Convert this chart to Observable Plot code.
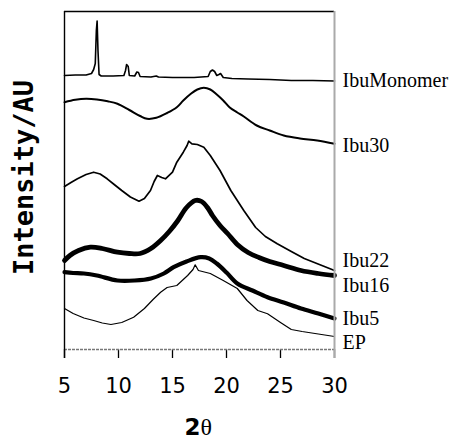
<!DOCTYPE html>
<html>
<head>
<meta charset="utf-8">
<script src="https://cdn.jsdelivr.net/npm/d3@7"></script>
<script src="https://cdn.jsdelivr.net/npm/@observablehq/plot@0.6"></script>
<style>
  html, body { margin: 0; padding: 0; background: #fff; }
</style>
</head>
<body>
<div id="chart"></div>
<script>
// 2θ (degrees) vs intensity (arbitrary units, offset stacked traces)
const ibuMonomer = [[5,274],[6,274.5],[7,274.5],[7.5,276],[7.7,280],[7.85,286],[7.95,319],[8.02,328.5],[8.1,299],[8.2,275],[8.4,273.5],[9.5,273.5],[10.5,274],[10.65,279],[10.75,285],[10.9,283],[11.0,274],[11.5,273.5],[11.7,277.5],[11.85,277],[12.0,273],[13,272.5],[13.5,273.5],[13.7,272.5],[15,272],[17,272],[18.3,273],[18.5,278],[18.7,279.5],[18.9,278],[19.1,274],[19.3,275],[19.45,276],[19.7,272],[20.5,271],[22,270.5],[24,270],[26,269],[28,269],[30,268.5]];
const ibu30 = [[5,247.3],[6,249.7],[7,250.7],[8,250],[9,248.2],[9.9,245.7],[11,239.5],[12,233.5],[12.65,230.7],[13.5,231.7],[14.5,236.5],[15.4,242.3],[16.0,249],[16.7,255.7],[17.3,260],[17.9,261.7],[18.5,260],[19.1,255],[19.7,249],[20.3,242],[21.0,237],[21.6,233],[22.8,224],[24,219],[25.3,214],[26.8,211],[28.4,209],[30,205.7]];
const ibu22 = [[5,163],[5.6,167],[6.2,170.7],[7.0,175],[7.7,177.3],[8.3,175.5],[8.95,170.7],[9.6,165],[10.3,159],[11.1,152.5],[11.9,148.3],[12.4,151],[12.96,159],[13.3,168],[13.6,174],[14.0,172],[14.35,170.7],[15.0,177.3],[15.4,187.3],[16.0,197.3],[16.35,204],[16.5,208.3],[16.8,205.7],[17.3,205],[17.9,202.3],[18.5,194],[19.4,179],[20.4,159],[21.6,139],[22.7,122],[23.6,113],[24.7,105.7],[26,98],[27.2,91],[28.6,85],[30,79]];
const ibu16 = [[5,89],[5.5,94],[6.3,99],[7.4,102.3],[8.5,101],[9.9,97.3],[11,96],[12,96],[13,101],[13.9,109],[14.7,118],[15.5,129],[16.3,142],[17.1,149],[17.7,148],[18.3,141],[18.7,134],[19.4,124],[20.1,116],[21,105],[22,97],[23,92],[24,88],[25.3,84],[26.9,79],[28.5,76],[30,74]];
const ibu5 = [[5,77.3],[5.8,76.5],[6.8,76],[8,74],[9.9,69],[11.5,69],[13,71],[14.2,76],[15.1,82.3],[16.3,88],[17.6,92.3],[18.4,91],[19.1,86],[20,77],[21,66],[22.4,59],[23.8,52.3],[25.3,47],[26.9,41],[28.5,36],[30,31]];
const ep = [[5,41],[5.8,36],[6.8,31.5],[7.7,29],[8.5,26.5],[9.3,25],[10.3,27],[11.4,32.3],[12.4,41],[13.2,50],[13.9,57.3],[14.5,62],[15.4,64],[16.4,74],[16.9,80],[17.1,84.7],[17.4,79],[18.5,76],[19.7,69],[21,61],[21.9,49],[22.9,39],[23.8,35.7],[25,27],[26,20],[27,18],[28.5,15.5],[30,13]];

const seriesNames = ["IbuMonomer", "Ibu30", "Ibu22", "Ibu16", "Ibu5", "EP"];
const labelLevels = [269, 204, 89, 64, 31, 7];
const xTicks = [5, 10, 15, 20, 25, 30];
const xDomain = [5, 30];
const yDomain = [0, 338];

const seriesData = [ibuMonomer, ibu30, ibu22, ibu16, ibu5, ep];
const widths = [1.6, 2, 1.7, 4.8, 4.2, 1.2];
const curves = ["linear", "catmull-rom", "linear", "catmull-rom", "catmull-rom", "linear"];

const lineMarks = seriesData.map((d, i) =>
  Plot.line(d, {x: p => p[0], y: p => p[1], stroke: "#000", strokeWidth: widths[i], curve: curves[i], strokeLinejoin: "round"})
);

const labels = seriesNames.map((name, i) => ({name, x: 30, y: labelLevels[i]}));

const chart = Plot.plot({
  width: 457,
  height: 440,
  marginLeft: 64,
  marginRight: 123,
  marginTop: 11,
  marginBottom: 91,
  style: {fontFamily: "DejaVu Sans", fontSize: "21px", color: "#000", background: "#fff"},
  x: {domain: xDomain, ticks: xTicks},
  y: {domain: yDomain, axis: null},
  marks: [
    Plot.axisX({ticks: xTicks, tickSize: 9, tickPadding: 20, label: null, fontSize: 21, strokeWidth: 1.3}),
    Plot.ruleY([0], {stroke: "#777", strokeDasharray: "3,1", strokeWidth: 1.3}),
    ...lineMarks,
    Plot.ruleY([338], {stroke: "#000", strokeWidth: 1.6}),
    Plot.ruleX([5], {stroke: "#000", strokeWidth: 1.4, insetBottom: -9}),
    Plot.ruleX([30], {stroke: "#aaa", strokeWidth: 2, insetBottom: -9}),
    Plot.text(labels, {x: "x", y: "y", text: "name", dx: 8, textAnchor: "start", lineAnchor: "middle", fontFamily: "Liberation Serif", fontSize: 20}),
    Plot.text(["Intensity/AU"], {frameAnchor: "left", dx: -40, dy: -3, rotate: -90, textAnchor: "middle", lineAnchor: "middle", fontFamily: "DejaVu Sans Mono", fontWeight: "bold", fontSize: 27}),
    Plot.text(["2"], {frameAnchor: "bottom", dx: 1, dy: 78, textAnchor: "end", lineAnchor: "middle", fontFamily: "DejaVu Sans", fontWeight: "bold", fontSize: 23}),
    Plot.text(["θ"], {frameAnchor: "bottom", dx: 1, dy: 78, textAnchor: "start", lineAnchor: "middle", fontFamily: "Liberation Serif", fontSize: 24})
  ]
});
document.getElementById("chart").appendChild(chart);
</script>
</body>
</html>
